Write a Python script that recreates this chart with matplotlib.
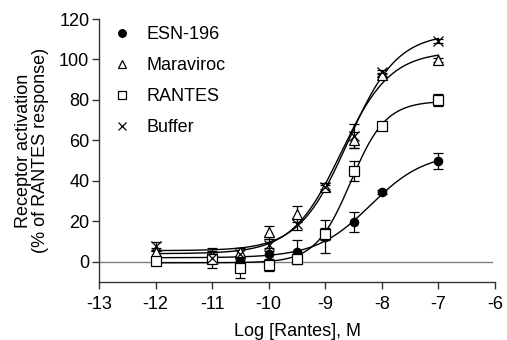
import numpy as np
import matplotlib
matplotlib.use("Agg")
import matplotlib.pyplot as plt
from matplotlib.lines import Line2D

plt.rcParams['font.family'] = ['Liberation Sans', 'DejaVu Sans']

log_conc = [-12, -11, -10.5, -10, -9.5, -9, -8.5, -8, -7]

series_names = ["ESN-196", "Maraviroc", "RANTES", "Buffer"]
esn_mean = [2.5, 2.5, -0.3, 4.0, 4.8, 12.4, 19.5, 34.3, 50.0]
esn_err = [3, 3, 2, 3, 6, 8, 5, 1, 4]
mvc_mean = [5.0, 3.0, 5.0, 14.5, 23.5, 37.0, 60.0, 92.4, 99.8]
mvc_err = [2, 2, 2, 3, 4, 2, 4, 1, 1]
rantes_mean = [0.5, 1.5, -3.0, -1.5, 1.5, 13.8, 45.0, 67.0, 80.0]
rantes_err = [2, 2, 5, 3, 1, 3, 5, 1, 3]
buffer_mean = [8.0, 2.0, 4.0, 8.4, 18.5, 37.0, 62.0, 94.0, 109.0]
buffer_err = [2, 5, 3, 3, 3, 1, 6, 1, 1]

# fitted sigmoid parameters: bottom, top, logEC50, hill
esn_fit = [2.0, 54.0, -8.2, 0.9]
mvc_fit = [4.0, 104.0, -8.72, 1.0]
rantes_fit = [-0.5, 79.5, -8.55, 1.4]
buffer_fit = [5.5, 113.0, -8.6, 1.0]

x_ticks = [-13, -12, -11, -10, -9, -8, -7, -6]
y_ticks = [0, 20, 40, 60, 80, 100, 120]


def sigmoid(x, p):
    b, t, ec, h = p
    return b + (t - b) / (1 + 10 ** ((ec - x) * h))


FS = 13

fig = plt.figure(figsize=(5.07, 3.40), dpi=100)
ax = fig.add_axes([99 / 507, 1 - 282 / 340, (495 - 99) / 507, (282 - 19) / 340])

ax.plot([-13, -6.05], [0, 0], color='#808080', lw=1.0, zorder=1)

styles = [
    dict(marker='o', mfc='black', ms=6),
    dict(marker='^', mfc='white', ms=6.5),
    dict(marker='s', mfc='white', ms=6.5),
    dict(marker='x', mfc='black', ms=6.5),
]
means = [esn_mean, mvc_mean, rantes_mean, buffer_mean]
errs = [esn_err, mvc_err, rantes_err, buffer_err]
fits = [esn_fit, mvc_fit, rantes_fit, buffer_fit]

xs = np.linspace(-12, -7, 300)
handles = []
for name, m, e, f, st in zip(series_names, means, errs, fits, styles):
    ax.plot(xs, sigmoid(xs, f), color='black', lw=1.0, zorder=2)
    ax.errorbar(log_conc, m, yerr=e, fmt='none', ecolor='black', elinewidth=0.9,
                capsize=3.5, capthick=0.9, zorder=3)
    ax.plot(log_conc, m, linestyle='none', color='black', mec='black', mew=0.9,
            zorder=4, **st)
    handles.append(Line2D([], [], linestyle='none', color='black', mec='black',
                          mew=0.9, marker=st['marker'], mfc=st['mfc'],
                          ms=st['ms'] - 0.5))

ax.set_xlim(-13, -6)
ax.set_ylim(-10, 120)
ax.set_xticks(x_ticks)
ax.set_yticks(y_ticks)
ax.set_xticklabels([str(t) for t in x_ticks])
ax.set_yticklabels([str(t) for t in y_ticks])
for s in ['top', 'right']:
    ax.spines[s].set_visible(False)
for s in ['left', 'bottom']:
    ax.spines[s].set_linewidth(1.0)
    ax.spines[s].set_color('#333333')
ax.tick_params(direction='out', length=5, width=1.0, labelsize=FS, color='#333333',
               pad=2)
ax.tick_params(axis='x', pad=5)

ax.set_xlabel("Log [Rantes], M", fontsize=FS, labelpad=7)
ax.set_ylabel("Receptor activation\n(% of RANTES response)", fontsize=FS,
              labelpad=7, linespacing=1.05)

leg = ax.legend(handles, series_names, loc='upper left',
                bbox_to_anchor=(-0.005, 1.035), frameon=False, fontsize=FS,
                labelspacing=0.78, handlelength=1.0, handletextpad=0.85)

fig.savefig("out.png", dpi=100)
